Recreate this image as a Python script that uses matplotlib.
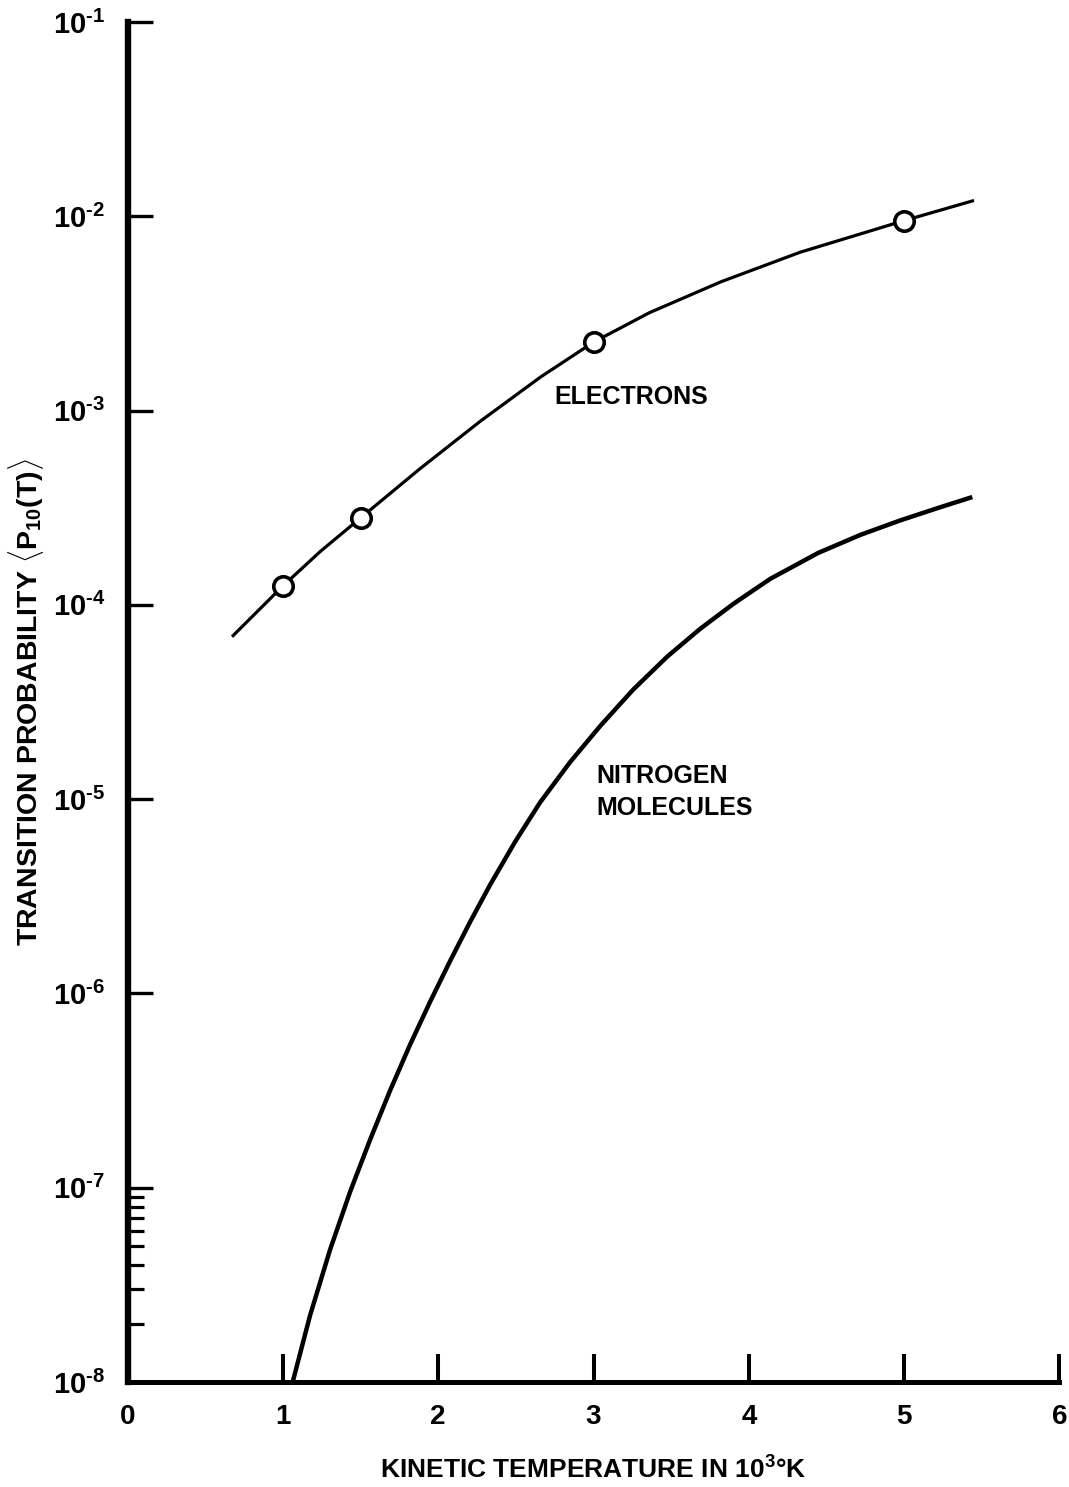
import matplotlib
matplotlib.use("Agg")
import matplotlib.pyplot as plt
from matplotlib.ticker import FixedLocator, FixedFormatter, NullFormatter

plt.rcParams['font.family'] = ['Liberation Sans', 'DejaVu Sans']
plt.rcParams['font.weight'] = 'bold'
plt.rcParams['axes.labelweight'] = 'bold'
plt.rcParams['mathtext.fontset'] = 'custom'
plt.rcParams['mathtext.rm'] = 'Liberation Sans:bold'
plt.rcParams['mathtext.it'] = 'Liberation Sans:bold'
plt.rcParams['mathtext.bf'] = 'Liberation Sans:bold'

# electron curve (10^3 K, probability) and the four measured points
elec_T = [0.68, 1.0, 1.24, 1.5, 1.88, 2.27, 2.66, 3.0, 3.36, 3.82, 4.33, 5.0, 5.44]
elec_P = [6.95e-5, 1.25e-4, 1.88e-4, 2.8e-4, 5.0e-4, 8.8e-4, 1.49e-3, 2.25e-3,
          3.19e-3, 4.60e-3, 6.53e-3, 9.5e-3, 1.20e-2]
pts_T = [1.0, 1.5, 3.0, 5.0]
pts_P = [1.25e-4, 2.8e-4, 2.25e-3, 9.5e-3]

# nitrogen molecule curve
n2_T = [1.066, 1.175, 1.304, 1.433, 1.562, 1.690, 1.819, 1.948, 2.077, 2.205,
        2.334, 2.495, 2.656, 2.849, 3.043, 3.255, 3.474, 3.687, 3.899, 4.137,
        4.446, 4.717, 4.974, 5.232, 5.425]
n2_P = [1.02e-8, 2.20e-8, 4.80e-8, 9.53e-8, 1.77e-7, 3.16e-7, 5.45e-7, 9.06e-7,
        1.47e-6, 2.33e-6, 3.62e-6, 6.03e-6, 9.62e-6, 1.55e-5, 2.38e-5, 3.66e-5,
        5.41e-5, 7.53e-5, 1.01e-4, 1.36e-4, 1.85e-4, 2.29e-4, 2.72e-4, 3.18e-4,
        3.56e-4]

x_ticks = [0, 1, 2, 3, 4, 5, 6]
y_ticks = [1e-8, 1e-7, 1e-6, 1e-5, 1e-4, 1e-3, 1e-2, 1e-1]
y_labels = [r'$10^{\text{-8}}$', r'$10^{\text{-7}}$', r'$10^{\text{-6}}$',
            r'$10^{\text{-5}}$', r'$10^{\text{-4}}$', r'$10^{\text{-3}}$',
            r'$10^{\text{-2}}$', r'$10^{\text{-1}}$']
y_minor = [k * 1e-8 for k in range(2, 10)]

fig = plt.figure(figsize=(10.69, 14.87), dpi=100)
ax = fig.add_axes([0.1193, 0.0706, 0.8718, 0.9146])

ax.plot(elec_T, elec_P, color='black', lw=2.3, zorder=2)
ax.plot(pts_T, pts_P, 'o', ms=14, mfc='white', mec='black', mew=2.6, zorder=3)
ax.plot(n2_T, n2_P, color='black', lw=3.2, zorder=2)

ax.set_yscale('log')
ax.set_xlim(0, 6)
ax.set_ylim(1e-8, 1e-1)

for s in ['top', 'right']:
    ax.spines[s].set_visible(False)
ax.spines['left'].set_linewidth(4.6)
ax.spines['bottom'].set_linewidth(3.6)

ax.xaxis.set_major_locator(FixedLocator(x_ticks))
ax.yaxis.set_major_locator(FixedLocator(y_ticks))
ax.yaxis.set_major_formatter(FixedFormatter(y_labels))
ax.yaxis.set_minor_locator(FixedLocator(y_minor))
ax.yaxis.set_minor_formatter(NullFormatter())
ax.xaxis.set_minor_locator(FixedLocator([]))

ax.tick_params(axis='x', which='major', direction='in', length=20, width=2.9,
               labelsize=20, pad=16)
ax.tick_params(axis='y', which='major', direction='in', length=18, width=2.4,
               labelsize=21, pad=16)
ax.tick_params(axis='y', which='minor', direction='in', length=11.5, width=2.3)

ax.set_xlabel(r'KINETIC TEMPERATURE IN 10$^{3}$°K', fontsize=19, labelpad=19)
ax.set_ylabel(r'TRANSITION PROBABILITY $\langle$P$_{10}$(T)$\rangle$',
              fontsize=20.5, labelpad=5)

ax.text(2.75, 1.18e-3, 'ELECTRONS', fontsize=18, va='center', ha='left')
ax.text(3.02, 1.09e-5, 'NITROGEN\nMOLECULES', fontsize=18, va='center',
        ha='left', linespacing=1.4)

fig.savefig('out.png', dpi=100)
